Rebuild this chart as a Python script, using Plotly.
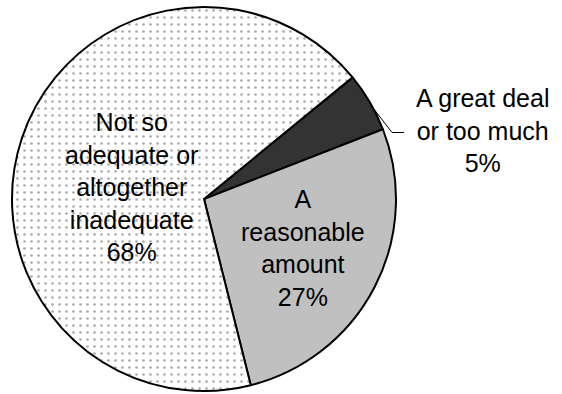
import plotly.graph_objects as go

# Survey answer shares (percent)
labels = ["A great deal<br>or too much", "A<br>reasonable<br>amount",
          "Not so<br>adequate or<br>altogether<br>inadequate"]
values = [5, 27, 68]
slice_colors = ["#333333", "#c0c0c0", "#ffffff"]
pattern_shapes = ["", "", "."]

W, H = 562, 394
FONT = "Liberation Sans, Arial, sans-serif"


def px(x, y):
    """Pixel position -> paper coordinates (margins are zero)."""
    return x / W, 1 - y / H


fig = go.Figure(
    go.Pie(
        labels=labels,
        values=values,
        sort=False,
        direction="clockwise",
        rotation=50.7,
        textinfo="none",
        hoverinfo="none",
        showlegend=False,
        marker=dict(
            colors=slice_colors,
            line=dict(color="#000000", width=2),
            pattern=dict(shape=pattern_shapes, fgcolor="#a8a8a8",
                         bgcolor=slice_colors, size=7, solidity=0.11,
                         fillmode="replace"),
        ),
        domain=dict(x=[12 / W, 396 / W], y=[3 / H, 387 / H]),
    )
)

# Slice labels: name plus percentage
label_pos = [(482, 130.3), (303, 247.8), (131, 187.3)]
for lab, val, (lx, ly) in zip(labels, values, label_pos):
    ax, ay = px(lx, ly)
    fig.add_annotation(
        x=ax, y=ay, xref="paper", yref="paper",
        xanchor="center", yanchor="middle",
        text=f"{lab}<br>{val}%", showarrow=False,
        font=dict(family=FONT, size=25, color="#000000"),
    )

# Leader line for the small slice
p0, p1, p2 = px(370, 104), px(392, 132.5), px(404, 132.5)
fig.add_shape(
    type="path", xref="paper", yref="paper",
    path=f"M {p0[0]},{p0[1]} L {p1[0]},{p1[1]} L {p2[0]},{p2[1]}",
    line=dict(color="#000000", width=1),
)

fig.update_layout(
    width=W, height=H,
    margin=dict(l=0, r=0, t=0, b=0),
    paper_bgcolor="#ffffff",
    plot_bgcolor="#ffffff",
)

fig.write_html("out.html")
